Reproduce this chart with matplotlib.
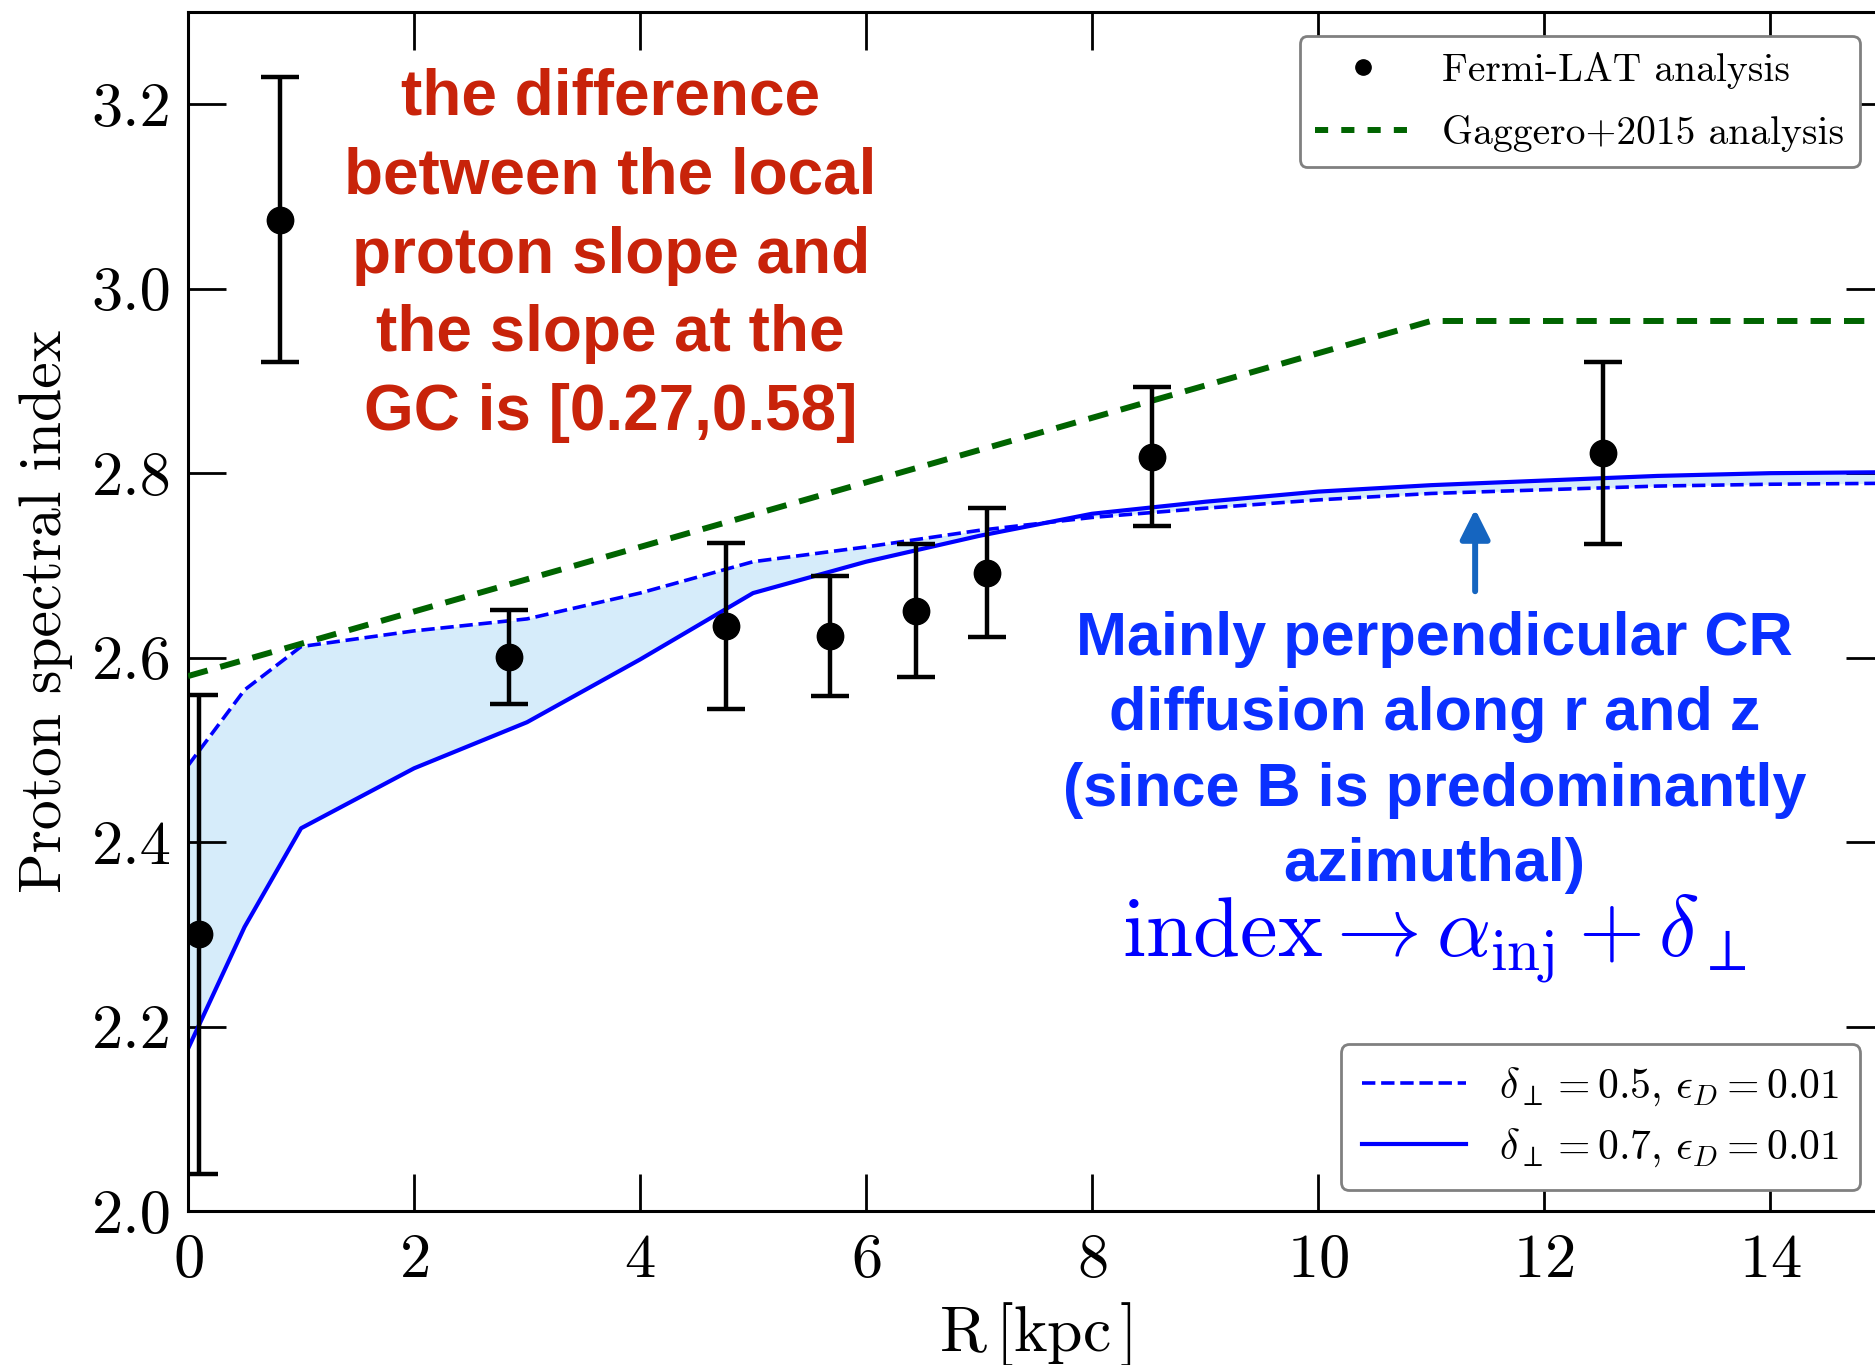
import matplotlib
matplotlib.use('Agg')
import matplotlib.pyplot as plt
from matplotlib.lines import Line2D
from matplotlib.ticker import FormatStrFormatter
import numpy as np

plt.rcParams['font.family'] = 'cmr10'
plt.rcParams['mathtext.fontset'] = 'cm'
plt.rcParams['axes.formatter.use_mathtext'] = True

# Fermi-LAT data points
r_data = [0.095, 0.815, 2.836, 4.762, 5.683, 6.444, 7.069, 8.529, 12.52]
idx_data = [2.300, 3.075, 2.601, 2.634, 2.623, 2.651, 2.692, 2.818, 2.822]
idx_err = [0.26, 0.155, 0.051, 0.09, 0.065, 0.072, 0.07, 0.075, 0.099]

# Gaggero+2015
r_gag = [0, 11, 15]
idx_gag = [2.58, 2.965, 2.965]

# model curves
r_mod = [0, 0.5, 1, 2, 3, 4, 5, 6, 7, 8, 9, 10, 11, 12, 13, 14, 15]
idx_d05 = [2.483, 2.565, 2.612, 2.629, 2.642, 2.670, 2.704, 2.720, 2.738,
           2.752, 2.762, 2.771, 2.778, 2.782, 2.786, 2.788, 2.789]
idx_d07 = [2.176, 2.308, 2.415, 2.480, 2.530, 2.598, 2.670, 2.704, 2.732,
           2.756, 2.769, 2.780, 2.787, 2.792, 2.797, 2.800, 2.801]

fig = plt.figure(figsize=(18.75, 13.65), dpi=100)
ax = fig.add_axes([0.1003, 0.1128, 0.904, 0.8784])

ax.fill_between(r_mod, idx_d05, idx_d07, color='#d6ecfa', lw=0, zorder=1)
ax.plot(r_mod, idx_d05, '--', color='#0000ff', lw=2.6, zorder=2)
ax.plot(r_mod, idx_d07, '-', color='#0000ff', lw=3, zorder=2)
ax.plot(r_gag, idx_gag, '--', color='#006400', lw=4.3, dashes=(3.4, 2.2), zorder=3)
ax.errorbar(r_data, idx_data, yerr=idx_err, fmt='o', color='k', ms=19,
            elinewidth=3.2, capsize=14, capthick=3.2, zorder=4)

ax.set_xlim(0, 15)
ax.set_ylim(2.0, 3.3)
ax.set_xticks([0, 2, 4, 6, 8, 10, 12, 14])
ax.set_yticks([2.0, 2.2, 2.4, 2.6, 2.8, 3.0, 3.2])
ax.yaxis.set_major_formatter(FormatStrFormatter('%.1f'))
ax.tick_params(which='major', direction='in', length=27, width=2,
               top=True, right=True, labelsize=45)
ax.tick_params(axis='y', pad=12)
ax.tick_params(axis='x', pad=16)
for s in ax.spines.values():
    s.set_linewidth(2.2)

ax.set_xlabel(r'$\mathrm{R\,[kpc\,]}$', fontsize=46, labelpad=8)
ax.set_ylabel('Proton spectral index', fontsize=43)
ax.yaxis.set_label_coords(-0.068, 0.5)

# legends
h1 = [Line2D([], [], ls='none', marker='o', color='k', ms=11),
      Line2D([], [], ls='--', color='#006400', lw=4.3, dashes=(2.2, 2.2))]
leg1 = ax.legend(h1, ['Fermi-LAT analysis', 'Gaggero+2015 analysis'],
                 loc='upper right', bbox_to_anchor=(1860/1875, 1 - 36/1365),
                 bbox_transform=fig.transFigure, fontsize=28.5, fancybox=True,
                 framealpha=1, edgecolor='#808080', handlelength=2.4,
                 labelspacing=0.65, borderaxespad=0)
leg1.get_frame().set_linewidth(2)
ax.add_artist(leg1)

h2 = [Line2D([], [], ls='--', color='#0000ff', lw=2.6),
      Line2D([], [], ls='-', color='#0000ff', lw=3)]
leg2 = ax.legend(h2, [r'$\delta_\perp = 0.5,\, \epsilon_D = 0.01$',
                      r'$\delta_\perp = 0.7,\, \epsilon_D = 0.01$'],
                 loc='lower right', bbox_to_anchor=(1860/1875, 1 - 1190/1365),
                 bbox_transform=fig.transFigure, fontsize=30, fancybox=True,
                 framealpha=1, edgecolor='#808080', handlelength=2.5,
                 labelspacing=0.45, borderpad=0.5, borderaxespad=0)
leg2.get_frame().set_linewidth(2)

# annotations
ax.text(3.74, 3.036, 'the difference\nbetween the local\nproton slope and\nthe slope at the\nGC is [0.27,0.58]',
        color='#c8230a', fontsize=46, fontweight='bold', family='Liberation Sans',
        ha='center', va='center', linespacing=1.40, zorder=5)

ax.text(11.03, 2.497, 'Mainly perpendicular CR\ndiffusion along r and z\n(since B is predominantly\nazimuthal)',
        color='#0a30ff', fontsize=44, fontweight='bold', family='Liberation Sans',
        ha='center', va='center', linespacing=1.42, zorder=5)
ax.text(11.03, 2.275, r'$\mathrm{index} \rightarrow \alpha_{\mathrm{inj}} + \delta_\perp$',
        color='#0000ff', fontsize=61, ha='center', va='baseline', zorder=5)

ax.annotate('', xy=(11.39, 2.761), xytext=(11.39, 2.672),
            arrowprops=dict(arrowstyle='-|>', color='#1565c0', lw=4.3,
                            mutation_scale=45, shrinkA=0, shrinkB=0))

fig.savefig('out.png', dpi=100)
